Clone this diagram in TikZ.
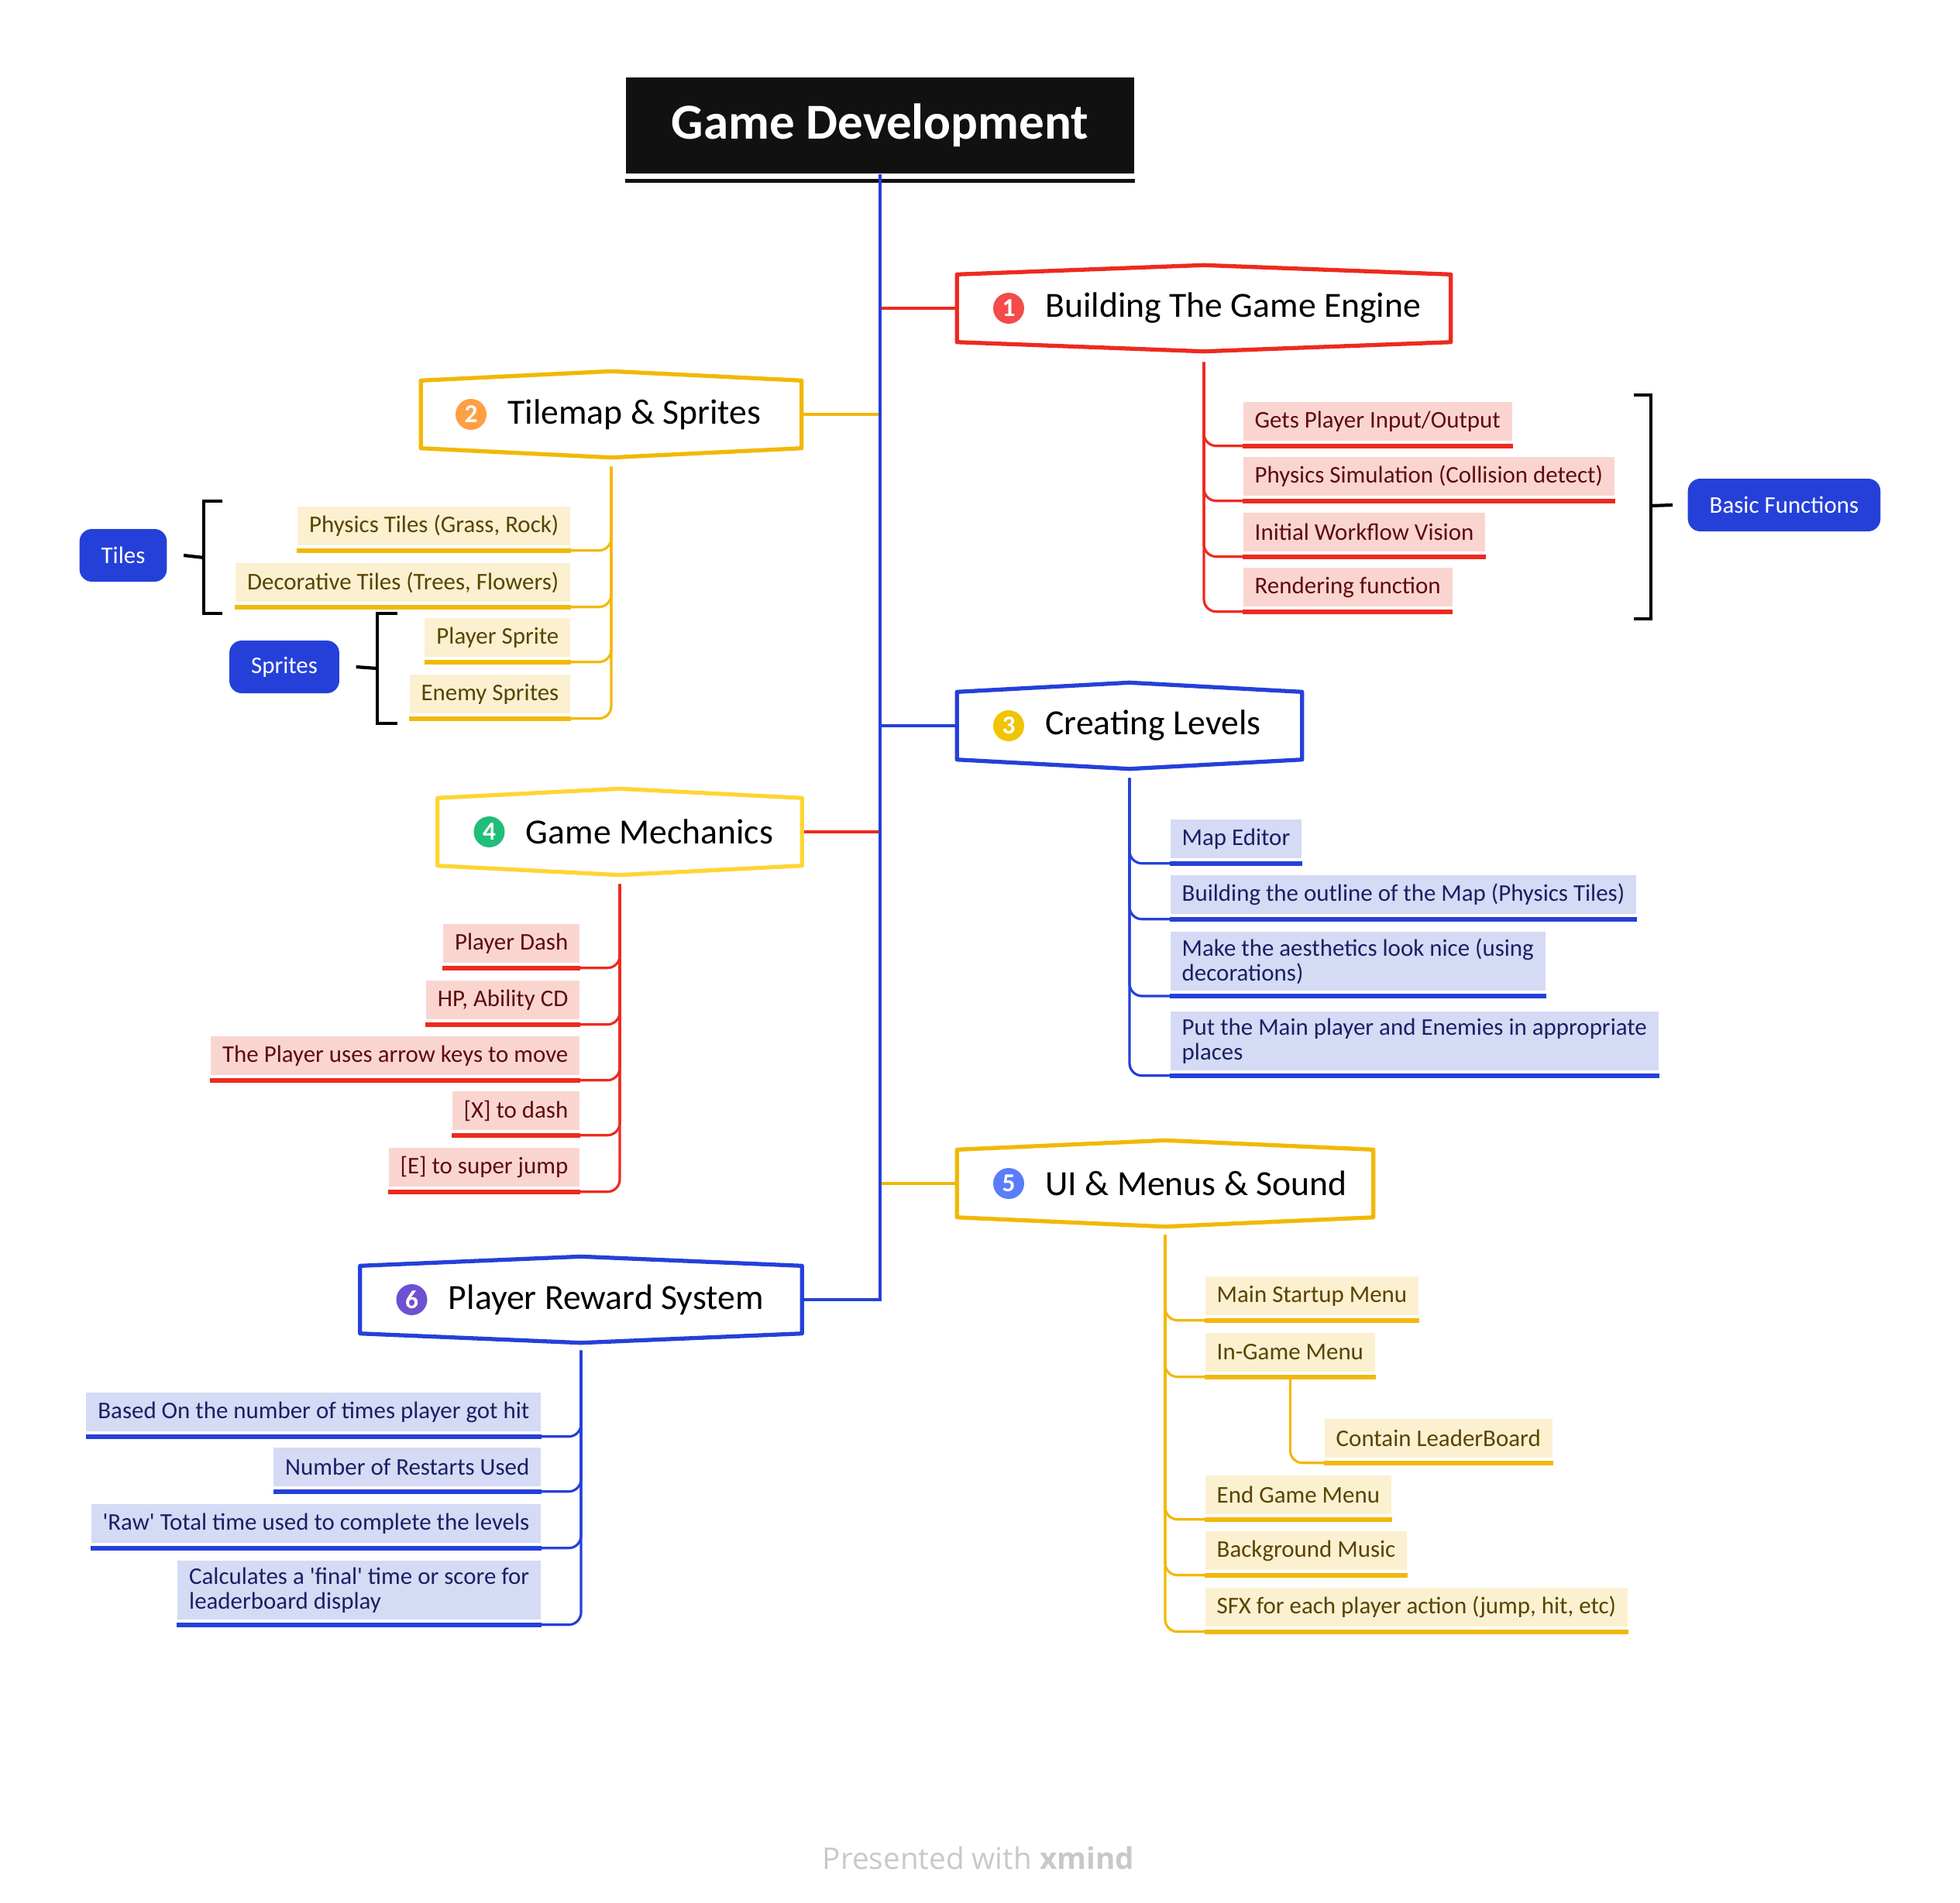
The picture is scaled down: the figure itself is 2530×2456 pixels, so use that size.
\documentclass[tikz,border=0pt]{standalone}
\usepackage{fontspec}
\setmainfont{Carlito}
\newfontfamily\footfont{Open Sans}
\usetikzlibrary{positioning}

\definecolor{rootblack}{RGB}{17,17,17}
\definecolor{engred}{RGB}{238,42,30}
\definecolor{tileyellow}{RGB}{242,184,7}
\definecolor{mechyellow}{RGB}{253,214,51}
\definecolor{levelblue}{RGB}{37,64,217}
\definecolor{pinkfill}{RGB}{250,213,208}
\definecolor{creamfill}{RGB}{251,240,208}
\definecolor{bluefill}{RGB}{213,218,245}
\definecolor{redink}{RGB}{94,12,12}
\definecolor{oliveink}{RGB}{88,68,0}
\definecolor{navyink}{RGB}{26,32,98}
\definecolor{numred}{RGB}{244,75,75}
\definecolor{numorange}{RGB}{255,159,67}
\definecolor{numyellow}{RGB}{240,196,0}
\definecolor{numgreen}{RGB}{32,190,120}
\definecolor{numblue}{RGB}{90,125,250}
\definecolor{numpurple}{RGB}{110,80,210}
\definecolor{creditgray}{RGB}{200,200,200}

\tikzset{
  rootbox/.style={fill=rootblack, text=white, minimum width=65.6mm, minimum height=12.4mm,
    font=\bfseries\fontsize{18.5}{21}\selectfont},
  topic/.style={minimum height=8.6mm, inner sep=0pt},
  numdot/.style={circle, inner sep=0pt, minimum size=4mm, text=white, font=\bfseries\fontsize{9.5}{9.5}\selectfont},
  topictext/.style={inner sep=0pt, font=\fontsize{13}{15}\selectfont},
  leaf/.style={inner xsep=1.5mm, inner ysep=0.9mm, minimum height=5mm, align=left,
    font=\fontsize{8.8}{9}\selectfont},
  redleaf/.style={leaf, fill=pinkfill, text=redink},
  yellowleaf/.style={leaf, fill=creamfill, text=oliveink},
  blueleaf/.style={leaf, fill=bluefill, text=navyink},
  tag/.style={fill=levelblue, text=white, rounded corners=1.6mm, inner xsep=2.8mm,
    minimum height=6.8mm, font=\fontsize{8.8}{10}\selectfont},
  branch/.style={line width=1.2pt},
  twig/.style={line width=0.9pt, rounded corners=1.6mm},
  bracket/.style={line width=1.2pt, black},
  credit/.style={text=creditgray, font=\footfont\fontsize{11}{13}\selectfont}
}

% hand drawn frame round a main topic
\newcommand{\sketchbox}[2]{%
  \draw[#2, line width=1.5pt, line join=round] (#1.north west) -- ([yshift=1.2mm]#1.north)
    -- (#1.north east) -- (#1.south east) -- ([yshift=-1.2mm]#1.south) -- (#1.south west) -- cycle;}
% thick line under a leaf
\newcommand{\leafline}[2]{%
  \draw[#2, line width=1.6pt] ([yshift=-0.6mm]#1.south west) -- ([yshift=-0.6mm]#1.south east);}

\begin{document}
\begin{tikzpicture}[x=0.1mm, y=-0.1mm]
  \useasboundingbox (0,0) rectangle (2530,2456);

  % Central topic
  \node[rootbox] (root) at (1136,162) {Game Development};
  \draw[rootblack, line width=1.3pt] ([yshift=-0.9mm]root.south west) -- ([yshift=-0.9mm]root.south east);

  % Main topics
  \node[topic, minimum width=63.6mm] (t1) at (1554,398) {};
  \node[topic, minimum width=49mm] (t2) at (789,535) {};
  \node[topic, minimum width=44.4mm] (t3) at (1458,937) {};
  \node[topic, minimum width=46.9mm] (t4) at (800,1074) {};
  \node[topic, minimum width=53.6mm] (t5) at (1504,1528) {};
  \node[topic, minimum width=56.9mm] (t6) at (750,1678) {};

  % Branches from the central topic
  \draw[branch, engred] (root.south) |- (t1.west);
  \draw[branch, tileyellow] (root.south) |- (t2.east);
  \draw[branch, levelblue] (root.south) |- (t3.west);
  \draw[branch, engred] (root.south) |- (t4.east);
  \draw[branch, tileyellow] (root.south) |- (t5.west);
  \draw[branch, levelblue] (root.south) |- (t6.east);

  \sketchbox{t1}{engred}
  \sketchbox{t2}{tileyellow}
  \sketchbox{t3}{levelblue}
  \sketchbox{t4}{mechyellow}
  \sketchbox{t5}{tileyellow}
  \sketchbox{t6}{levelblue}

  % Numbers and titles
  \node[numdot, fill=numred, right=4.6mm of t1.west] (d1) {1};
  \node[topictext, right=2.6mm of d1] (n1) {Building The Game Engine};
  \node[numdot, fill=numorange, right=4.4mm of t2.west] (d2) {2};
  \node[topictext, right=2.6mm of d2] (n2) {Tilemap \& Sprites};
  \node[numdot, fill=numyellow, right=4.6mm of t3.west] (d3) {3};
  \node[topictext, right=2.6mm of d3] (n3) {Creating Levels};
  \node[numdot, fill=numgreen, right=4.6mm of t4.west] (d4) {4};
  \node[topictext, right=2.6mm of d4] (n4) {Game Mechanics};
  \node[numdot, fill=numblue, right=4.6mm of t5.west] (d5) {5};
  \node[topictext, right=2.6mm of d5] (n5) {UI \& Menus \& Sound};
  \node[numdot, fill=numpurple, right=4.6mm of t6.west] (d6) {6};
  \node[topictext, right=2.6mm of d6] (n6) {Player Reward System};

  % Building the game engine
  \node[redleaf, anchor=west] (gpio) at (1604,544) {Gets Player Input/Output};
  \node[redleaf, anchor=west] (physim) at (1604,615) {Physics Simulation (Collision detect)};
  \node[redleaf, anchor=west] (wflow) at (1604,687) {Initial Workflow Vision};
  \node[redleaf, anchor=west] (render) at (1604,758) {Rendering function};
  \coordinate (e1) at ([yshift=-2.6mm]t1.south);
  \foreach \n in {gpio,physim,wflow,render} {
    \draw[twig, engred] (e1) |- ([yshift=-0.6mm]\n.south west);
    \leafline{\n}{engred}
  }

  % Tilemap and sprites
  \node[yellowleaf, anchor=east] (ptiles) at (737,679) {Physics Tiles (Grass, Rock)};
  \node[yellowleaf, anchor=east] (dtiles) at (737,752) {Decorative Tiles (Trees, Flowers)};
  \node[yellowleaf, anchor=east] (psprite) at (737,823) {Player Sprite};
  \node[yellowleaf, anchor=east] (esprite) at (737,896) {Enemy Sprites};
  \coordinate (e2) at ([yshift=-2.4mm]t2.south);
  \foreach \n in {ptiles,dtiles,psprite,esprite} {
    \draw[twig, tileyellow] (e2) |- ([yshift=-0.6mm]\n.south east);
    \leafline{\n}{tileyellow}
  }

  % Creating levels
  \node[blueleaf, anchor=west] (mapedit) at (1510,1083) {Map Editor};
  \node[blueleaf, anchor=west] (outline) at (1510,1155) {Building the outline of the Map (Physics Tiles)};
  \node[blueleaf, anchor=west] (aesth) at (1510,1241) {Make the aesthetics look nice (using\\decorations)};
  \node[blueleaf, anchor=west] (placing) at (1510,1344) {Put the Main player and Enemies in appropriate\\places};
  \coordinate (e3) at ([yshift=-2.4mm]t3.south);
  \foreach \n in {mapedit,outline,aesth,placing} {
    \draw[twig, levelblue] (e3) |- ([yshift=-0.6mm]\n.south west);
    \leafline{\n}{levelblue}
  }

  % Game mechanics
  \node[redleaf, anchor=east] (pdash) at (749,1218) {Player Dash};
  \node[redleaf, anchor=east] (hpcd) at (749,1291) {HP, Ability CD};
  \node[redleaf, anchor=east] (arrows) at (749,1363) {The Player uses arrow keys to move};
  \node[redleaf, anchor=east] (xdash) at (749,1434) {[X] to dash};
  \node[redleaf, anchor=east] (ejump) at (749,1507) {[E] to super jump};
  \coordinate (e4) at ([yshift=-2.4mm]t4.south);
  \foreach \n in {pdash,hpcd,arrows,xdash,ejump} {
    \draw[twig, engred] (e4) |- ([yshift=-0.6mm]\n.south east);
    \leafline{\n}{engred}
  }

  % UI, menus and sound
  \node[yellowleaf, anchor=west] (mainmenu) at (1555,1673) {Main Startup Menu};
  \node[yellowleaf, anchor=west] (ingame) at (1555,1746) {In-Game Menu};
  \node[yellowleaf, anchor=west] (board) at (1709,1857) {Contain LeaderBoard};
  \node[yellowleaf, anchor=west] (endmenu) at (1555,1930) {End Game Menu};
  \node[yellowleaf, anchor=west] (music) at (1555,2002) {Background Music};
  \node[yellowleaf, anchor=west] (sfx) at (1555,2075) {SFX for each player action (jump, hit, etc)};
  \coordinate (e5) at ([yshift=-2.3mm]t5.south);
  \foreach \n in {mainmenu,ingame,endmenu,music,sfx} {
    \draw[twig, tileyellow] (e5) |- ([yshift=-0.6mm]\n.south west);
  }
  \draw[twig, tileyellow] ([yshift=-0.6mm]ingame.south) |- ([yshift=-0.6mm]board.south west);
  \foreach \n in {mainmenu,ingame,board,endmenu,music,sfx} {
    \leafline{\n}{tileyellow}
  }

  % Player reward system
  \node[blueleaf, anchor=east] (hits) at (699,1823) {Based On the number of times player got hit};
  \node[blueleaf, anchor=east] (restarts) at (699,1894) {Number of Restarts Used};
  \node[blueleaf, anchor=east] (rawtime) at (699,1967) {\textquotesingle Raw\textquotesingle\ Total time used to complete the levels};
  \node[blueleaf, anchor=east] (final) at (699,2053) {Calculates a \textquotesingle final\textquotesingle\ time or score for\\leaderboard display};
  \coordinate (e6) at ([yshift=-2.2mm]t6.south);
  \foreach \n in {hits,restarts,rawtime,final} {
    \draw[twig, levelblue] (e6) |- ([yshift=-0.6mm]\n.south east);
    \leafline{\n}{levelblue}
  }

  % Summary brackets and their labels
  \node[tag] (tiles) at (159,717) {Tiles};
  \node[tag] (sprites) at (367,861) {Sprites};
  \node[tag] (basic) at (2303,652) {Basic Functions};
  \coordinate (tilesbr) at (263,720);
  \coordinate (spritesbr) at (487,863);
  \coordinate (basicbr) at (2131,653);
  \draw[bracket] (287,647) -| (tilesbr) |- (287,792);
  \draw[bracket] (tilesbr) -- ([xshift=2.1mm]tiles.east);
  \draw[bracket] (513,792) -| (spritesbr) |- (513,934);
  \draw[bracket] (spritesbr) -- ([xshift=2.1mm]sprites.east);
  \draw[bracket] (2109,510) -| (basicbr) |- (2109,799);
  \draw[bracket] (basicbr) -- ([xshift=-1.9mm]basic.west);

  % Footer
  \node[credit] (foot) at (1263,2399) {Presented with \textbf{xmind}};
\end{tikzpicture}
\end{document}
